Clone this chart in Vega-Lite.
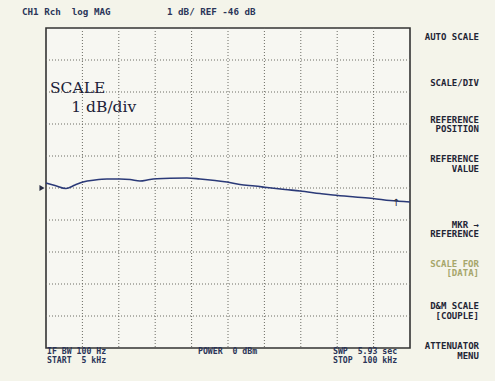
{
  "$schema": "https://vega.github.io/schema/vega-lite/v6.json",
  "autosize": "none",
  "width": 364,
  "height": 320,
  "padding": {"left": 46, "top": 28, "right": 85, "bottom": 33},
  "background": "#f4f4ea",
  "config": {
    "view": {"stroke": "#333333", "strokeWidth": 1.6, "fill": "#f7f7f2"}
  },
  "datasets": {
    "trace": [
      {"f": 5.00, "db": -45.844}, {"f": 7.35, "db": -45.922}, {"f": 10.22, "db": -46.016},
      {"f": 12.57, "db": -45.906}, {"f": 14.66, "db": -45.813}, {"f": 17.79, "db": -45.75},
      {"f": 20.92, "db": -45.719}, {"f": 24.31, "db": -45.719}, {"f": 26.92, "db": -45.734},
      {"f": 29.53, "db": -45.781}, {"f": 32.14, "db": -45.734}, {"f": 33.97, "db": -45.713},
      {"f": 37.36, "db": -45.694}, {"f": 41.80, "db": -45.688}, {"f": 45.19, "db": -45.719},
      {"f": 49.11, "db": -45.766}, {"f": 52.24, "db": -45.813}, {"f": 55.63, "db": -45.891},
      {"f": 59.55, "db": -45.938}, {"f": 62.68, "db": -45.984}, {"f": 67.38, "db": -46.047},
      {"f": 71.29, "db": -46.094}, {"f": 76.51, "db": -46.172}, {"f": 79.90, "db": -46.219},
      {"f": 85.65, "db": -46.281}, {"f": 90.34, "db": -46.328}, {"f": 94.78, "db": -46.391},
      {"f": 100.0, "db": -46.438}
    ],
    "vgrid": [
      {"f": 14.5}, {"f": 24}, {"f": 33.5}, {"f": 43}, {"f": 52.5},
      {"f": 62}, {"f": 71.5}, {"f": 81}, {"f": 90.5}
    ],
    "hgrid": [
      {"db": -50}, {"db": -49}, {"db": -48}, {"db": -47}, {"db": -46},
      {"db": -45}, {"db": -44}, {"db": -43}, {"db": -42}
    ],
    "labels": [
      {"f": -1.26, "db": -40.5, "label": "CH1 Rch\u00a0\u00a0log MAG", "kind": "head"},
      {"f": 36.58, "db": -40.5, "label": "1 dB/ REF -46 dB", "kind": "head"},
      {"f": 118.0, "db": -41.281, "label": "AUTO SCALE", "kind": "soft"},
      {"f": 118.0, "db": -42.719, "label": "SCALE/DIV", "kind": "soft"},
      {"f": 118.0, "db": -43.867, "label": "REFERENCE", "kind": "soft"},
      {"f": 118.0, "db": -44.164, "label": "POSITION", "kind": "soft"},
      {"f": 118.0, "db": -45.102, "label": "REFERENCE", "kind": "soft"},
      {"f": 118.0, "db": -45.398, "label": "VALUE", "kind": "soft"},
      {"f": 118.0, "db": -47.148, "label": "MKR →", "kind": "soft"},
      {"f": 118.0, "db": -47.445, "label": "REFERENCE", "kind": "soft"},
      {"f": 118.0, "db": -48.367, "label": "SCALE FOR", "kind": "dim"},
      {"f": 118.0, "db": -48.664, "label": "[DATA]", "kind": "dim"},
      {"f": 118.0, "db": -49.695, "label": "D&M SCALE", "kind": "soft"},
      {"f": 118.0, "db": -49.992, "label": "[COUPLE]", "kind": "soft"},
      {"f": 118.0, "db": -50.945, "label": "ATTENUATOR", "kind": "soft"},
      {"f": 118.0, "db": -51.242, "label": "MENU", "kind": "soft"},
      {"f": 5.26, "db": -51.115, "label": "IF BW 100 Hz", "kind": "foot"},
      {"f": 5.26, "db": -51.41, "label": "START\u00a0\u00a05 kHz", "kind": "foot"},
      {"f": 44.67, "db": -51.115, "label": "POWER\u00a0\u00a00 dBm", "kind": "foot"},
      {"f": 79.90, "db": -51.115, "label": "SWP\u00a0\u00a05.93 sec", "kind": "foot"},
      {"f": 79.90, "db": -51.41, "label": "STOP\u00a0\u00a0100 kHz", "kind": "foot"},
      {"f": 6.04, "db": -42.875, "label": "SCALE", "kind": "big"},
      {"f": 11.6, "db": -43.47, "label": "1 dB/div", "kind": "big"}
    ]
  },
  "layer": [
    {
      "data": {"name": "vgrid"},
      "mark": {"type": "rule", "color": "#6c6c64", "strokeWidth": 1, "strokeDash": [1, 2]},
      "encoding": {
        "x": {"field": "f", "type": "quantitative", "scale": {"domain": [5, 100], "nice": false, "zero": false}, "axis": null}
      }
    },
    {
      "data": {"name": "hgrid"},
      "mark": {"type": "rule", "color": "#6c6c64", "strokeWidth": 1, "strokeDash": [1, 2]},
      "encoding": {
        "y": {"field": "db", "type": "quantitative", "scale": {"domain": [-51, -41], "nice": false, "zero": false}, "axis": null}
      }
    },
    {
      "data": {"name": "trace"},
      "mark": {"type": "line", "color": "#2b3a78", "strokeWidth": 1.6, "interpolate": "monotone"},
      "encoding": {
        "x": {"field": "f", "type": "quantitative"},
        "y": {"field": "db", "type": "quantitative"}
      }
    },
    {
      "data": {"values": [{"f": 5, "db": -46}]},
      "mark": {"type": "point", "shape": "triangle-right", "filled": true, "color": "#2a2f45", "size": 35, "opacity": 1, "xOffset": -4},
      "encoding": {
        "x": {"field": "f", "type": "quantitative"},
        "y": {"field": "db", "type": "quantitative"}
      }
    },
    {
      "data": {"values": [{"f": 96.35, "db": -46.47, "label": "↑"}]},
      "mark": {"type": "text", "font": "DejaVu Sans", "fontSize": 10, "color": "#2a2f45", "baseline": "middle"},
      "encoding": {
        "x": {"field": "f", "type": "quantitative"},
        "y": {"field": "db", "type": "quantitative"},
        "text": {"field": "label"}
      }
    },
    {
      "data": {"name": "labels"},
      "transform": [{"filter": "datum.kind === 'head'"}],
      "mark": {"type": "text", "font": "DejaVu Sans Mono", "fontSize": 9.2, "fontWeight": "bold", "color": "#2a3458", "align": "left", "baseline": "middle"},
      "encoding": {
        "x": {"field": "f", "type": "quantitative"},
        "y": {"field": "db", "type": "quantitative"},
        "text": {"field": "label"}
      }
    },
    {
      "data": {"name": "labels"},
      "transform": [{"filter": "datum.kind === 'foot'"}],
      "mark": {"type": "text", "font": "DejaVu Sans Mono", "fontSize": 8.2, "fontWeight": "bold", "color": "#2a3458", "align": "left", "baseline": "middle"},
      "encoding": {
        "x": {"field": "f", "type": "quantitative"},
        "y": {"field": "db", "type": "quantitative"},
        "text": {"field": "label"}
      }
    },
    {
      "data": {"name": "labels"},
      "transform": [{"filter": "datum.kind === 'soft'"}],
      "mark": {"type": "text", "font": "DejaVu Sans Mono", "fontSize": 9, "fontWeight": "bold", "color": "#1f2535", "align": "right", "baseline": "middle"},
      "encoding": {
        "x": {"field": "f", "type": "quantitative"},
        "y": {"field": "db", "type": "quantitative"},
        "text": {"field": "label"}
      }
    },
    {
      "data": {"name": "labels"},
      "transform": [{"filter": "datum.kind === 'dim'"}],
      "mark": {"type": "text", "font": "DejaVu Sans Mono", "fontSize": 9, "fontWeight": "bold", "color": "#a6a66a", "align": "right", "baseline": "middle"},
      "encoding": {
        "x": {"field": "f", "type": "quantitative"},
        "y": {"field": "db", "type": "quantitative"},
        "text": {"field": "label"}
      }
    },
    {
      "data": {"name": "labels"},
      "transform": [{"filter": "datum.kind === 'big'"}],
      "mark": {"type": "text", "font": "DejaVu Serif", "fontSize": 15.5, "color": "#1c2238", "align": "left", "baseline": "middle"},
      "encoding": {
        "x": {"field": "f", "type": "quantitative"},
        "y": {"field": "db", "type": "quantitative"},
        "text": {"field": "label"}
      }
    }
  ]
}
